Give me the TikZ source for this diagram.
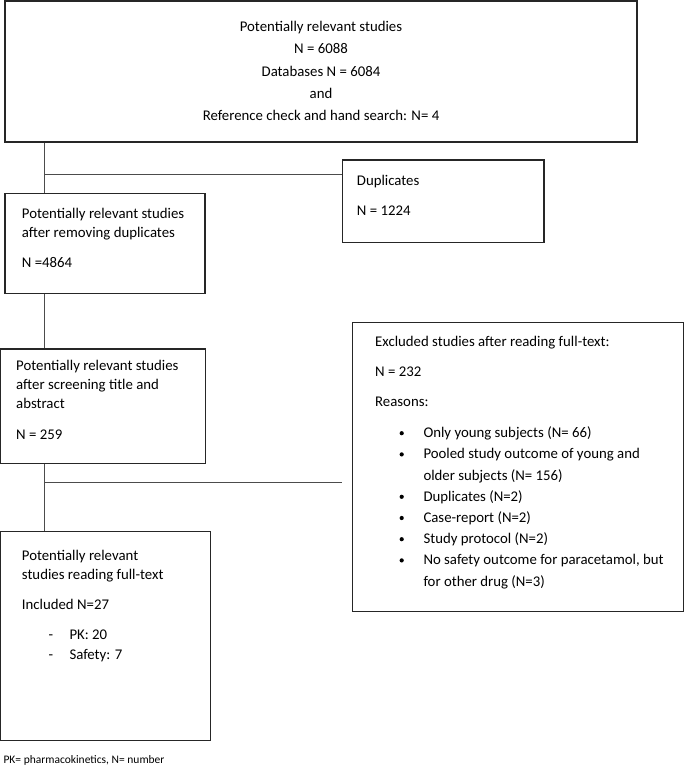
\documentclass[tikz,border=0pt]{standalone}
\usepackage{fontspec}
\setmainfont{Carlito}
\begin{document}
\begin{tikzpicture}[x=1pt,y=-1pt,
  box/.style={draw=black!85, line width=1.2pt, inner sep=0pt},
  conn/.style={draw=black!70, line width=0.9pt},
  txt/.style={anchor=base west, inner sep=0pt, font=\fontsize{14.8}{18}\selectfont},
  ctxt/.style={txt, anchor=base},
  note/.style={anchor=base west, inner sep=0pt, font=\fontsize{11.5}{14}\selectfont},
  bul/.style={circle, fill=black, inner sep=0pt, minimum size=4.2pt}]
\useasboundingbox (0,0) rectangle (685,774);

% boxes
\node[box, minimum width=632pt, minimum height=141pt] (top) at (321,71.5) {};
\node[box, minimum width=201.7pt, minimum height=82.5pt] (dup) at (443.2,201.3) {};
\node[box, minimum width=200pt, minimum height=100pt] (b2) at (105,243.3) {};
\node[box, minimum width=205pt, minimum height=114.3pt] (b3) at (103.2,406.2) {};
\node[box, minimum width=209.9pt, minimum height=209pt] (b4) at (105.75,636.2) {};
\node[box, minimum width=331pt, minimum height=289pt] (excl) at (517.8,467.2) {};

% connectors
\coordinate (j1) at (44.3,174);
\coordinate (j2) at (44.3,482);
\coordinate (j2e) at (341.7,482);
\draw[conn] (j1 |- top.south) -- (j1 |- b2.north);
\draw[conn] (j1) -- (j1 -| dup.west);
\draw[conn] (j1 |- b2.south) -- (j1 |- b3.north);
\draw[conn] (j2 |- b3.south) -- (j2 |- b4.north);
\draw[conn] (j2) -- (j2e);

% top box text
\node[ctxt] (t1) at (321,31.5) {Potentially relevant studies};
\node[ctxt] (t2) at (321,53.7) {N = 6088};
\node[ctxt] (t3) at (321,76) {Databases N = 6084};
\node[ctxt] (t4) at (321,98.2) {and};
\node[ctxt] (t5) at (321,120.4) {Reference check and hand search: N= 4};

% duplicates
\node[txt] (d1) at (356.7,185.7) {Duplicates};
\node[txt] (d2) at (356.7,215.7) {N = 1224};

% box 2
\node[txt] (c1) at (21.7,218.3) {Potentially relevant studies};
\node[txt] (c2) at (21.7,237.5) {after removing duplicates};
\node[txt] (c3) at (21.7,267.3) {N =4864};

% box 3
\node[txt] (e1) at (16,370) {Potentially relevant studies};
\node[txt] (e2) at (16,389.3) {after screening title and};
\node[txt] (e3) at (16,408.5) {abstract};
\node[txt] (e4) at (16,439.3) {N = 259};

% box 4
\node[txt] (f1) at (21.7,560) {Potentially relevant};
\node[txt] (f2) at (21.7,579.5) {studies reading full-text};
\node[txt] (f3) at (21.7,609.3) {Included N=27};
\node[txt] (f4d) at (48.3,639.3) {-};
\node[txt] (f4) at (69.3,639.3) {PK: 20};
\node[txt] (f5d) at (48.3,659.3) {-};
\node[txt] (f5) at (69.3,659.3) {Safety: 7};

% excluded box
\node[txt] (x1) at (375,346.7) {Excluded studies after reading full-text:};
\node[txt] (x2) at (375,376.7) {N = 232};
\node[txt] (x3) at (375,406.7) {Reasons:};
\node[bul] (xb1) at (401.7,433.2) {};
\node[txt] (x4) at (423.3,437.7) {Only young subjects (N= 66)};
\node[bul] (xb2) at (401.7,454.4) {};
\node[txt] (x5) at (423.3,458.9) {Pooled study outcome of young and};
\node[txt] (x6) at (423.3,480.1) {older subjects (N= 156)};
\node[bul] (xb3) at (401.7,496.8) {};
\node[txt] (x7) at (423.3,501.3) {Duplicates (N=2)};
\node[bul] (xb4) at (401.7,518.0) {};
\node[txt] (x8) at (423.3,522.5) {Case-report (N=2)};
\node[bul] (xb5) at (401.7,539.2) {};
\node[txt] (x9) at (423.3,543.7) {Study protocol (N=2)};
\node[bul] (xb6) at (401.7,560.4) {};
\node[txt] (x10) at (423.3,564.9) {No safety outcome for paracetamol, but};
\node[txt] (x11) at (423.3,586.1) {for other drug (N=3)};

% footnote
\node[note] (fn) at (3.3,763) {PK= pharmacokinetics, N= number};
\end{tikzpicture}
\end{document}
